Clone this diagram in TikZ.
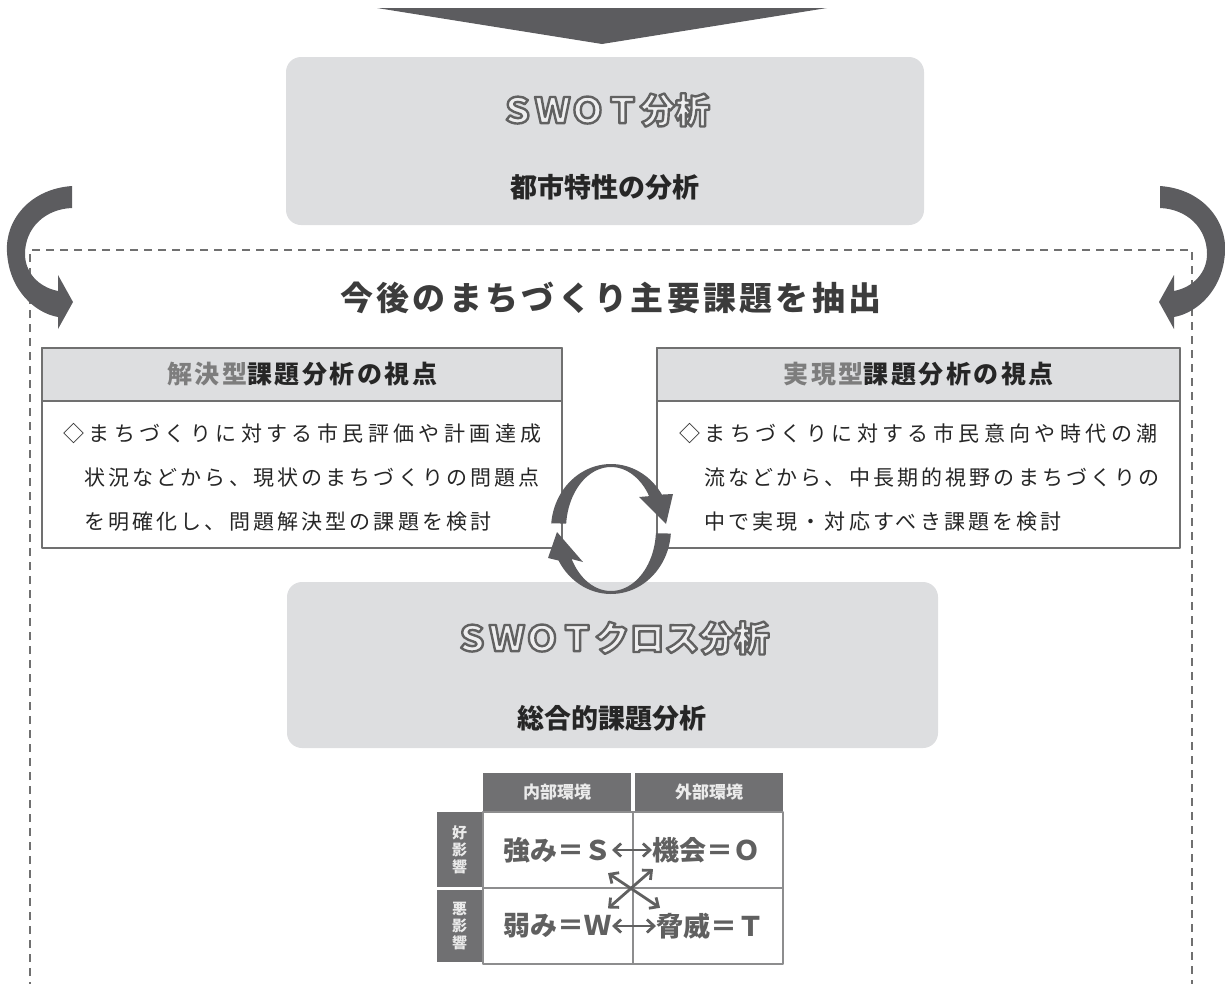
\documentclass[tikz,border=0pt]{standalone}
\usepackage{fontspec}
\setmainfont{Noto Sans CJK JP}
\newfontfamily\bodyfont[LetterSpace=15]{Noto Sans CJK JP}
\newfontfamily\bodywide[LetterSpace=21]{Noto Sans CJK JP}
\newfontfamily\titlefont[LetterSpace=10]{Noto Sans CJK JP}
\usetikzlibrary{arrows.meta}

\definecolor{boxgray}{RGB}{221,222,224}
\definecolor{arrowgray}{RGB}{92,92,95}
\definecolor{linegray}{RGB}{112,112,112}
\definecolor{inkgray}{RGB}{38,38,38}
\definecolor{softgray}{RGB}{125,125,125}
\definecolor{cellgray}{RGB}{112,112,114}
\definecolor{mtext}{RGB}{96,96,96}

% hollow letters: light fill with a grey stroke
\newcommand{\hollow}[1]{\special{pdf:literal direct q}\textcolor{white!50!boxgray}{\special{pdf:literal direct 2 Tr 2.4 w 0.38 G}#1}\special{pdf:literal direct Q}}

\tikzset{
  roundbox/.style={fill=boxgray, rounded corners=15pt, inner sep=0pt},
  panel/.style={draw=linegray, line width=2.5pt, fill=white, inner sep=0pt},
  panelhead/.style={draw=linegray, line width=2.5pt, fill=boxgray, inner sep=0pt, text=inkgray, font=\titlefont\fontsize{25}{30}\bfseries},
  bodyline/.style={anchor=west, inner sep=0pt, text=inkgray, font=\bodyfont\fontsize{21}{25}\selectfont},
  firstline/.style={bodyline, font=\bodywide\fontsize{21}{25}\selectfont},
  outlined/.style={inner sep=0pt, font=\fontsize{35}{40}\bfseries},
  subtitle/.style={inner sep=0pt, text=inkgray, font=\fontsize{27}{30}\bfseries},
  dashline/.style={draw=linegray, line width=2.2pt, dash pattern=on 8pt off 6pt},
  mhead/.style={fill=cellgray, text=white!92!black, inner sep=0pt, minimum width=148pt, minimum height=39pt, font=\fontsize{17}{20}\bfseries},
  mside/.style={fill=cellgray, text=white!92!black, inner sep=0pt, align=center, minimum width=45pt, font=\fontsize{15}{17}\bfseries},
  mcell/.style={draw=cellgray!80, line width=1.5pt, fill=white, inner sep=0pt, minimum width=150pt, minimum height=76pt},
  mlabel/.style={inner sep=0pt, text=mtext, font=\fontsize{27}{30}\bfseries},
  mx/.style={<->, draw=mtext, line width=2.8pt}
}

\begin{document}
\begin{tikzpicture}[x=1pt, y=-1pt, line join=round, >={Straight Barb[length=7pt,width=13pt]}]
\useasboundingbox (0,0) rectangle (1225,983);

% arrow coming from above
\fill[arrowgray] (377,8) -- (827,8) -- (602,44) -- cycle;

% SWOT box
\node[roundbox, minimum width=638pt, minimum height=168pt] (swot) at (605,141) {};
\node[outlined] (swottitle) at (605,110) {\hollow{ＳＷＯＴ分析}};
\node[subtitle] (swotsub) at (605,187) {都市特性の分析};

% dashed frame and bent arrows
\draw[dashline] (30,990) -- (30,250) -- (1192,250) -- (1192,990);
\def\bendarrow{\fill[arrowgray] (72,186) .. controls (30,189) and (5,220) .. (7,252)
  .. controls (9,290) and (35,313) .. (58,317) -- (58,329) -- (73,302) -- (58,275) -- (58,291)
  .. controls (38,287) and (25,272) .. (25,254) .. controls (25,228) and (45,209) .. (72,208) -- cycle;}
\bendarrow
\begin{scope}[shift={(1232,0)}, xscale=-1]
\bendarrow
\end{scope}

\node[inner sep=0pt, text=inkgray!90!white, font=\titlefont\fontsize{33}{38}\bfseries] (main) at (611,298) {今後のまちづくり主要課題を抽出};

% two points of view
\node[panel, minimum width=520pt, minimum height=200pt] (lpanel) at (302,448) {};
\node[panelhead, minimum width=520pt, minimum height=53pt, anchor=north] (lhead) at (lpanel.north) {\textcolor{softgray}{解決型}課題分析の視点};
\node[firstline] (l1) at (63,434) {◇まちづくりに対する市民評価や計画達成};
\node[bodyline] (l2) at (84,478) {状況などから、現状のまちづくりの問題点};
\node[bodyline] (l3) at (84,522) {を明確化し、問題解決型の課題を検討};

\node[panel, minimum width=523pt, minimum height=200pt] (rpanel) at (918.5,448) {};
\node[panelhead, minimum width=523pt, minimum height=53pt, anchor=north] (rhead) at (rpanel.north) {\textcolor{softgray}{実現型}課題分析の視点};
\node[firstline] (r1) at (679,434) {◇まちづくりに対する市民意向や時代の潮};
\node[bodyline] (r2) at (704,478) {流などから、中長期的視野のまちづくりの};
\node[bodyline] (r3) at (704,522) {中で実現・対応すべき課題を検討};

% SWOT cross box
\node[roundbox, minimum width=651pt, minimum height=166pt] (cross) at (612.5,665) {};
\node[outlined] (crosstitle) at (612,638) {\hollow{ＳＷＯＴクロス分析}};
\node[subtitle] (crosssub) at (612,718) {総合的課題分析};

% cycle between the panels
\fill[arrowgray] plot[domain=185:328, samples=40] ({611+60*cos(\x)},{529+65*sin(\x)})
  -- (673,494) -- (666,524) -- (639,497)
  -- plot[domain=328:185, samples=40] ({611+45*cos(\x)},{529+62*sin(\x)}) -- cycle;
\fill[arrowgray] plot[domain=4:151, samples=40] ({611+60*cos(\x)},{529+65*sin(\x)})
  -- (548,558) -- (557,532) -- (583,562)
  -- plot[domain=151:4, samples=40] ({611+45*cos(\x)},{529+62*sin(\x)}) -- cycle;

% SWOT matrix
\node[mhead] (hin) at (557,792.5) {内部環境};
\node[mhead] (hout) at (709,792.5) {外部環境};
\node[mside, minimum height=75pt] (sgood) at (459.5,849.5) {好\\影\\響};
\node[mside, minimum height=72pt] (sbad) at (459.5,926) {悪\\影\\響};
\node[mcell] (c11) at (558,850) {};
\node[mcell] (c12) at (708,850) {};
\node[mcell] (c21) at (558,926) {};
\node[mcell] (c22) at (708,926) {};
\node[mlabel, anchor=east] (S) at (612,850) {強み＝Ｓ};
\node[mlabel, anchor=west] (O) at (652,850) {機会＝Ｏ};
\node[mlabel, anchor=east] (W) at (612,926) {弱み＝Ｗ};
\node[mlabel, anchor=west] (T) at (656,926) {脅威＝Ｔ};
\draw[mx] (S.east) -- (O.west);
\draw[mx] (W.east) -- (T.west);
\draw[mx] ([xshift=-4pt,yshift=-10pt]S.south east) -- ([xshift=4pt,yshift=5pt]T.north west);
\draw[mx] ([xshift=1pt,yshift=-6pt]O.south west) -- ([xshift=-4pt,yshift=5pt]W.north east);
\end{tikzpicture}
\end{document}
